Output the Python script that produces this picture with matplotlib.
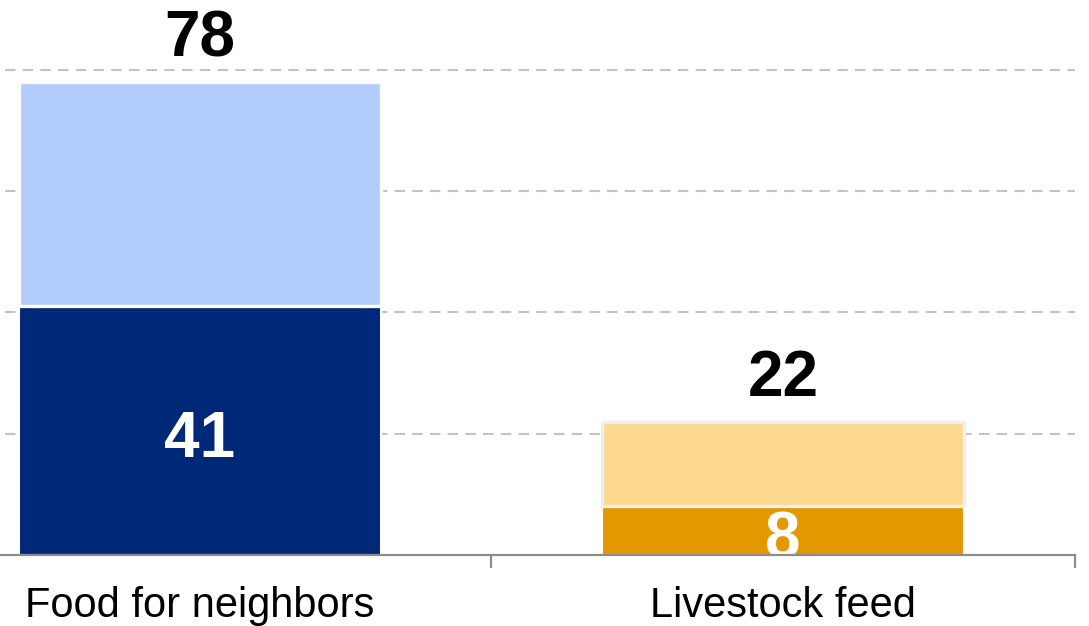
import numpy as np
import matplotlib.pyplot as plt

plt.rcParams['font.family'] = ['Liberation Sans', 'DejaVu Sans']

categories = ["Food for neighbors", "Livestock feed"]
bottom_vals = [41, 8]
totals = [78, 22]
bottom_colors = ["#002878", "#e39800"]
top_colors = ["#b2cdfd", "#fdd98f"]
top_edges = ["white", "#efefef"]

fig = plt.figure(figsize=(10.89, 6.26), dpi=100)
# axes runs past the left edge of the figure like the original
ax = fig.add_axes([-0.0845, 0.1134, 1.0716, 0.8866])

x = np.arange(len(categories))
width = 0.62
top_vals = [t - b for t, b in zip(totals, bottom_vals)]

ax.bar(x, bottom_vals, width=width, color=bottom_colors, edgecolor="white",
       linewidth=1.5, zorder=3)
for i in range(len(x)):
    ax.bar(x[i], top_vals[i], width=width, bottom=bottom_vals[i],
           color=top_colors[i], edgecolor=top_edges[i], linewidth=2.4, zorder=3)

ax.set_xlim(-0.5, 1.5)
ax.set_ylim(0, 91.5)

# dashed gridlines
for yv in [20, 40, 60, 80]:
    ax.axhline(yv, xmin=0.083, xmax=1.0, color="#c3c3c3", lw=1.5,
               ls=(0, (5, 3.5)), zorder=1)

for i in range(len(x)):
    ax.annotate(str(totals[i]), (x[i], totals[i]), xytext=(0, 9),
                textcoords="offset points", ha="center", va="bottom",
                fontsize=46, fontweight="bold", color="black")
    ax.annotate(str(bottom_vals[i]), (x[i], bottom_vals[i] / 2),
                xytext=(0, -7), textcoords="offset points", ha="center",
                va="center", fontsize=46, fontweight="bold", color="white",
                zorder=4, annotation_clip=False)

for s in ["top", "right", "left"]:
    ax.spines[s].set_visible(False)
ax.spines["bottom"].set_color("#8c8c8c")
ax.spines["bottom"].set_linewidth(1.6)
ax.spines["bottom"].set_zorder(5)
ax.set_yticks([])

ax.set_xticks([0.5, 1.5])
ax.set_xticklabels([])
ax.set_xticks(x, minor=True)
ax.set_xticklabels(categories, minor=True, fontsize=30)
ax.tick_params(axis="x", which="major", length=9, width=1.6, color="#8c8c8c")
ax.tick_params(axis="x", which="minor", length=0, pad=22)

fig.savefig("out.png", dpi=100)
